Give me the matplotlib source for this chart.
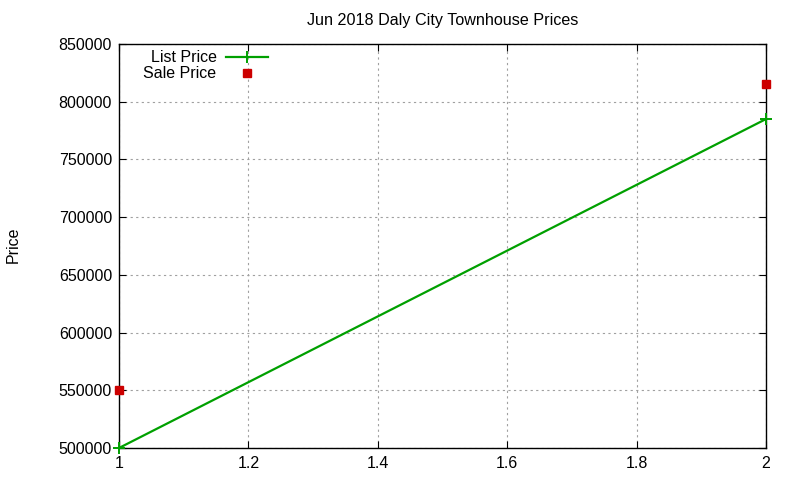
import matplotlib
matplotlib.use('Agg')
import matplotlib.pyplot as plt

plt.rcParams['font.family'] = ['Liberation Sans', 'DejaVu Sans']

list_x = [1, 2]
list_price = [500000, 785000]
sale_x = [1, 2]
sale_price = [550000, 815000]

fig = plt.figure(figsize=(8, 4.8), dpi=100)
ax = fig.add_axes([0.14875, 0.0667, 0.80875, 0.8416])

ax.plot(list_x, list_price, color='#00a000', lw=1.6, marker='+', ms=8, mew=1.4,
        label='List Price', clip_on=False, zorder=3)
ax.plot(sale_x, sale_price, ls='none', color='#cc0000', marker='s', ms=6,
        label='Sale Price', clip_on=False, zorder=3)

ax.set_xlim(1, 2)
ax.set_ylim(500000, 850000)
ax.set_xticks([1, 1.2, 1.4, 1.6, 1.8, 2])
ax.set_xticklabels(['1', '1.2', '1.4', '1.6', '1.8', '2'])
ax.set_yticks(range(500000, 850001, 50000))
ax.grid(True, color='#a0a0a0', ls=(0, (2, 3)), lw=0.8)
ax.tick_params(direction='in', top=True, right=True, length=5, labelsize=11.5)
ax.tick_params(axis='y', pad=5)
ax.tick_params(axis='x', pad=6)
for s in ax.spines.values():
    s.set_linewidth(1.0)

ax.set_title('Jun 2018 Daly City Townhouse Prices', fontsize=11.6, pad=14)
fig.text(0.016, 0.49, 'Price', rotation=90, fontsize=11.5, va='center', ha='center')

ax.legend(loc='upper left', bbox_to_anchor=(0.023, 1.008), frameon=False,
          markerfirst=False, fontsize=11.5, handlelength=2.6, handletextpad=0.6,
          labelspacing=0.05, borderaxespad=0.2)

fig.savefig('out.png', dpi=100)
